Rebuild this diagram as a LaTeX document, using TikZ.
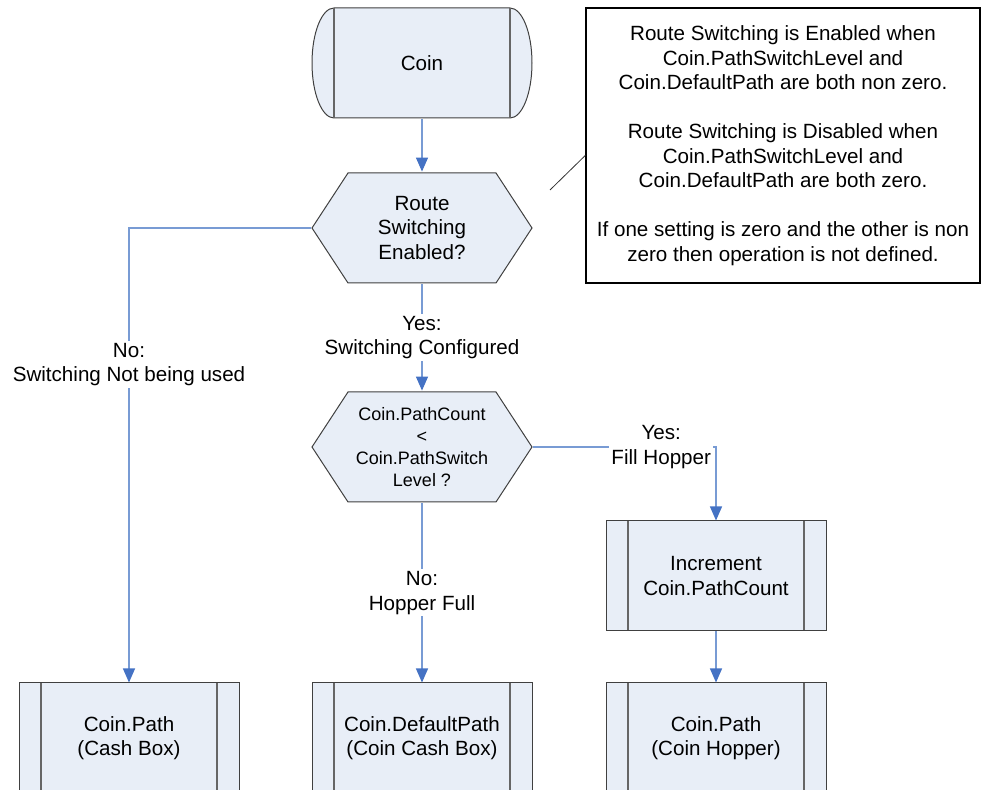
\documentclass[tikz,border=0pt]{standalone}
\usepackage{fontspec}
\setmainfont{Liberation Sans}
\usetikzlibrary{arrows.meta}
\definecolor{boxfill}{RGB}{232,238,247}
\definecolor{flowline}{RGB}{120,155,212}
\definecolor{flowtip}{RGB}{68,114,196}
\tikzset{
  base/.style={align=center, inner sep=0pt, font=\fontsize{10.3}{12.25}\selectfont},
  sides/.style={black!60, line width=0.8pt},
  proc/.style={base, rectangle, draw=black!75, line width=0.5pt, fill=boxfill,
    minimum width=110pt, minimum height=55pt,
    path picture={\draw[sides]
      ([xshift=11pt]path picture bounding box.north west) -- ([xshift=11pt]path picture bounding box.south west)
      ([xshift=-11pt]path picture bounding box.north east) -- ([xshift=-11pt]path picture bounding box.south east);}},
  term/.style={base, minimum width=111pt, minimum height=56pt,
    path picture={\filldraw[fill=boxfill, draw=black!75, line width=0.5pt]
      ([shift={(11.5pt,-0.5pt)}]path picture bounding box.north west)
      -- ([shift={(-11.5pt,-0.5pt)}]path picture bounding box.north east)
      arc[start angle=90, end angle=-90, x radius=11pt, y radius=27.5pt]
      -- ([shift={(11.5pt,0.5pt)}]path picture bounding box.south west)
      arc[start angle=270, end angle=90, x radius=11pt, y radius=27.5pt] -- cycle;
    \draw[sides]
      ([shift={(11.5pt,-0.5pt)}]path picture bounding box.north west) -- ([shift={(11.5pt,0.5pt)}]path picture bounding box.south west)
      ([shift={(-11.5pt,-0.5pt)}]path picture bounding box.north east) -- ([shift={(-11.5pt,0.5pt)}]path picture bounding box.south east);}},
  decide/.style={base, minimum width=111pt, minimum height=56pt,
    path picture={\filldraw[fill=boxfill, draw=black!75, line width=0.5pt]
      ([xshift=0.5pt]path picture bounding box.west)
      -- ([shift={(18.5pt,-0.5pt)}]path picture bounding box.north west)
      -- ([shift={(-18.5pt,-0.5pt)}]path picture bounding box.north east)
      -- ([xshift=-0.5pt]path picture bounding box.east)
      -- ([shift={(-18.5pt,0.5pt)}]path picture bounding box.south east)
      -- ([shift={(18.5pt,0.5pt)}]path picture bounding box.south west) -- cycle;}},
  notebox/.style={base, draw=black, line width=0.75pt, fill=white,
    minimum width=197pt, minimum height=137.5pt},
  flow/.style={draw=flowline, line width=0.6pt,
    -{Triangle[length=7pt, width=6pt, color=flowtip]}},
  lbl/.style={base, fill=white, inner sep=1pt}
}
\begin{document}
\begin{tikzpicture}[x=0.5pt, y=-0.5pt]
\path[use as bounding box, clip] (0,0) rectangle (981,790);
\node[term] (coin) at (422,63) {Coin};
\node[decide] (route) at (422,228) {Route\\Switching\\Enabled?};
\node[notebox] (note) at (783,145.5) {Route Switching is Enabled when\\Coin.PathSwitchLevel and\\Coin.DefaultPath are both non zero.\\[12.25pt]
  Route Switching is Disabled when\\Coin.PathSwitchLevel and\\Coin.DefaultPath are both zero.\\[12.25pt]
  If one setting is zero and the other is non\\zero then operation is not defined.};
\coordinate (notetip) at (550,190);
\node[decide, font=\fontsize{9}{11}\selectfont] (count) at (422,447) {Coin.PathCount\\<\\Coin.PathSwitch\\Level ?};
\node[proc] (incr) at (716,576) {Increment\\Coin.PathCount};
\node[proc] (cash) at (129,738) {Coin.Path\\(Cash Box)};
\node[proc] (dflt) at (422,738) {Coin.DefaultPath\\(Coin Cash Box)};
\node[proc] (hopper) at (716,738) {Coin.Path\\(Coin Hopper)};
\draw[black!80, line width=0.4pt] (notetip) -- ([yshift=-5pt]note.west);
\draw[flow] (coin) -- (route);
\draw[flow] (route.west) -| node[lbl, pos=0.65] {No:\\Switching Not being used} (cash.north);
\draw[flow] (route) -- node[lbl] {Yes:\\Switching Configured} (count);
\draw[flow] (count.east) -| node[lbl, pos=0.35] {Yes:\\Fill Hopper} (incr.north);
\draw[flow] (count) -- node[lbl] {No:\\Hopper Full} (dflt);
\draw[flow] (incr) -- (hopper);
\end{tikzpicture}
\end{document}
